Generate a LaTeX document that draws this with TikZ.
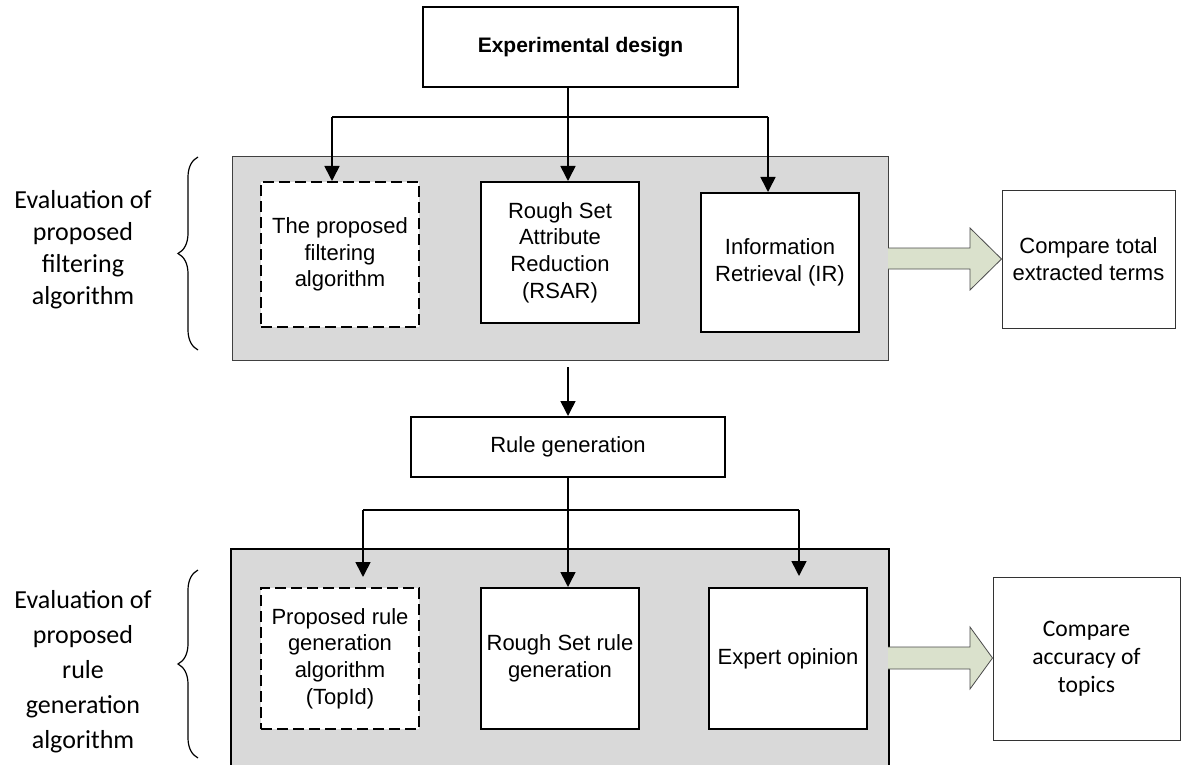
\documentclass[tikz,border=0pt]{standalone}
\usepackage{fontspec}
\setmainfont{Liberation Sans}
\newfontfamily\calfont{Carlito}
\usetikzlibrary{arrows.meta,decorations.pathreplacing}
\definecolor{panelgray}{HTML}{D9D9D9}
\definecolor{arrowfill}{HTML}{DAE1CC}
\begin{document}
\begin{tikzpicture}[x=1pt,y=-1pt,
  box/.style={draw=black,line width=2pt,fill=white,align=center,inner sep=2pt,
    font=\fontsize{22}{26.6}\selectfont},
  dashbox/.style={box,dash pattern=on 11pt off 5pt},
  panel/.style={fill=panelgray},
  result/.style={draw=black!80,line width=1pt,fill=white,align=center,inner sep=2pt},
  conn/.style={line width=1.6pt},
  arr/.style={conn,-{Triangle[width=15pt,length=15pt]}},
  bigarrow/.style={draw=black!70,line width=0.8pt,fill=arrowfill},
  sidelabel/.style={align=center},
  curly/.style={line width=1.2pt,decorate,decoration={brace,amplitude=20pt}}]
\useasboundingbox (0,0) rectangle (1181,765);
\fill[white] (0,0) rectangle (1181,765);

% title
\node[box,minimum width=315pt,minimum height=80pt,font=\bfseries\fontsize{21}{25}\selectfont]
  (exp) at (580.5,47.5) {Experimental design};

% first panel: term filtering
\node[panel,draw=black!75,line width=1pt,minimum width=656pt,minimum height=203pt] (pan1) at (560,258.5) {};
\node[dashbox,minimum width=158pt,minimum height=145pt] (filt) at (340,254.5) {The proposed\\filtering\\algorithm};
\node[box,minimum width=158pt,minimum height=141pt] (rsar) at (560,252.5) {Rough Set\\Attribute\\Reduction\\(RSAR)};
\node[box,minimum width=158pt,minimum height=139pt] (ir) at (780,262.5) {Information\\Retrieval (IR)};
\node[result,minimum width=173pt,minimum height=138pt,font=\fontsize{22}{26.6}\selectfont] (cmp1) at (1088.5,259) {Compare total\\extracted terms};

% branching from the title
\coordinate (j1) at (568,117);
\coordinate (h1l) at (332,117);
\coordinate (h1r) at (768,117);
\draw[conn] (exp.south -| j1) -- (j1);
\draw[conn] (h1l) -- (h1r);
\draw[arr] (h1l) -- (h1l |- filt.north);
\draw[arr] (j1) -- (j1 |- rsar.north);
\draw[arr] (h1r) -- (h1r |- ir.north);

% rule generation
\node[box,minimum width=314pt,minimum height=60pt] (rule) at (568,447) {Rule generation};
\coordinate (g1) at (568,367);
\draw[arr] (g1) -- (rule.north);

% second panel: rule generation
\node[panel,draw=black,line width=2pt,minimum width=658pt,minimum height=220pt] (pan2) at (560,659) {};
\node[dashbox,minimum width=158pt,minimum height=141pt] (topid) at (340,658.5) {Proposed rule\\generation\\algorithm\\(TopId)};
\node[box,minimum width=158pt,minimum height=141pt] (rsrule) at (560,658.5) {Rough Set rule\\generation};
\node[box,minimum width=158pt,minimum height=141pt] (expert) at (788,658.5) {Expert opinion};
\node[result,minimum width=187pt,minimum height=163pt,font=\calfont\fontsize{23.6}{28}\selectfont] (cmp2) at (1086.5,658.5) {Compare\\accuracy of\\topics};

% branching from rule generation
\coordinate (j2) at (568,510);
\coordinate (h2l) at (363,510);
\coordinate (h2r) at (799,510);
\coordinate (t2l) at (363,577);
\coordinate (t2r) at (799,576);
\draw[conn] (rule.south -| j2) -- (j2);
\draw[conn] (h2l) -- (h2r);
\draw[arr] (h2l) -- (t2l);
\draw[arr] (j2) -- (j2 |- rsrule.north);
\draw[arr] (h2r) -- (t2r);

% block arrows towards the comparisons
\draw[bigarrow] (888,248) -- (970,248) -- (970,228) -- (cmp1.west |- 0,259) -- (970,290) -- (970,269) -- (888,269);
\draw[bigarrow] (888,647) -- (970,647) -- (970,627) -- (cmp2.west |- 0,658) -- (970,689) -- (970,669) -- (888,669);

% side labels with braces
\node[sidelabel,font=\calfont\fontsize{26}{32}\selectfont] (lab1) at (83,250) {Evaluation of\\proposed\\filtering\\algorithm};
\draw[curly] (198,350) -- (198,157);
\node[sidelabel,font=\calfont\fontsize{26}{35}\selectfont] (lab2) at (83,672) {Evaluation of\\proposed\\rule\\generation\\algorithm};
\draw[curly] (198,758) -- (198,570);
\end{tikzpicture}
\end{document}
